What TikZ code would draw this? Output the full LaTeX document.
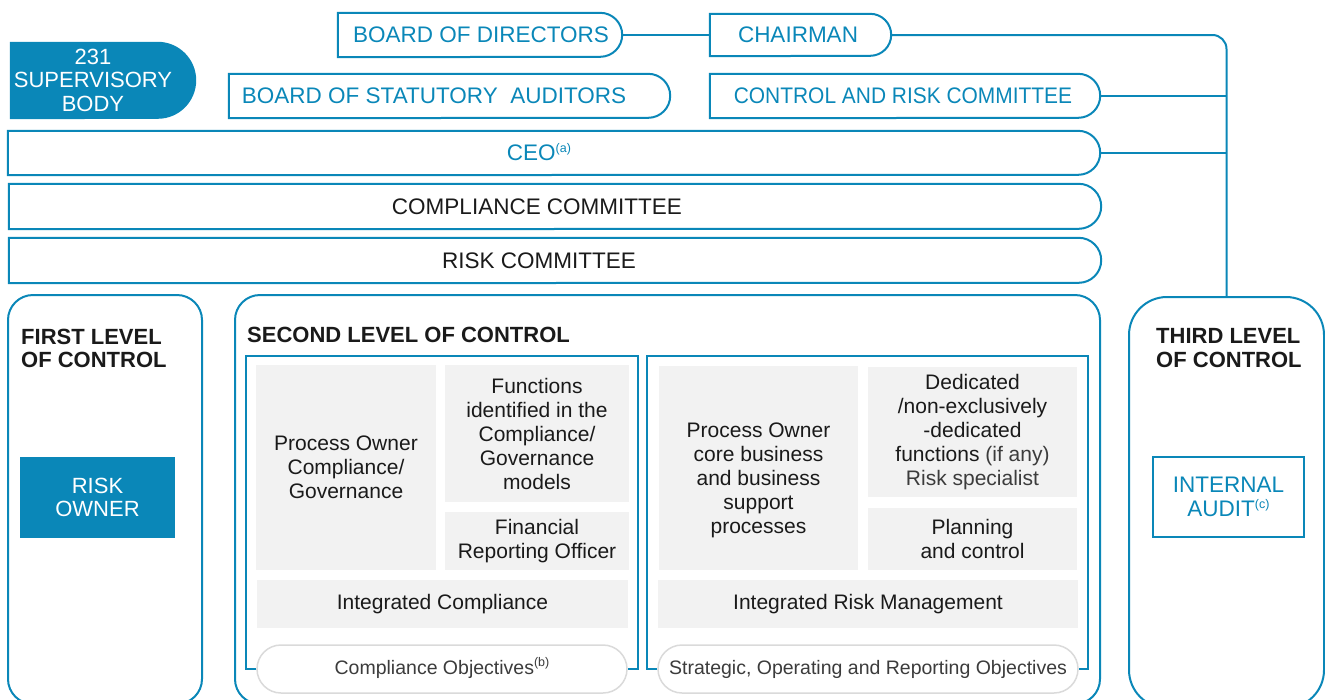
\documentclass[tikz,border=0pt]{standalone}
\usepackage{fontspec}
\setmainfont{Liberation Sans}
\usetikzlibrary{fit,calc}
\definecolor{bl}{HTML}{0A87B8}
\definecolor{gf}{HTML}{F2F2F2}
\definecolor{pb}{HTML}{DADADA}
\definecolor{tx}{HTML}{1A1A1A}
\definecolor{lt}{HTML}{3C3C3C}
\newcommand\sups[1]{\smash{\raisebox{0.38em}{\fontsize{12.5}{12.5}\selectfont #1}}}
% name x1 y1 x2 y2 r  (pixel coordinates, y downwards)
\newcommand\rrbox[7][ln]{%
  \node[area, fit={(#3,-#4) (#5,-#6)}] (#2) {};
  \draw[#1] (#2.north west) -- ([xshift=-#7pt]#2.north east)
    arc[start angle=90, end angle=-90, radius=#7pt] -- (#2.south west) -- cycle;
}
\begin{document}
\begin{tikzpicture}[x=1pt,y=1pt,
  area/.style={inner sep=0, draw=none},
  ln/.style={draw=bl, line width=2pt},
  lab/.style={font=\fontsize{22.5}{24}\selectfont, text=bl, inner sep=0, align=center},
  wlab/.style={font=\fontsize{22}{23.5}\selectfont, text=white, inner sep=0, align=center},
  ttl/.style={font=\fontsize{22}{23.5}\selectfont\bfseries, text=tx, inner sep=0, align=left, anchor=west},
  gbox/.style={fill=gf, inner sep=0, align=center, text=tx, font=\fontsize{21}{24}\selectfont},
  gtxt/.style={inner sep=0, align=center, text=tx, font=\fontsize{21}{24}\selectfont},
  lvl/.style={draw=bl, line width=2pt, inner sep=0},
  pill/.style={draw=pb, line width=1.5pt, fill=white, rounded corners=24pt, inner sep=0,
    minimum height=48pt, font=\fontsize{19.5}{22}\selectfont, text=lt}
]
\useasboundingbox (0,0) rectangle (1325,-699);
\clip (0,0) rectangle (1325,-699);

% ---- top boxes
\rrbox[fill=bl, draw=none]{sup}{10}{42}{196}{119}{38.5}
\node[wlab] (supt) at (93,-80) {231\\SUPERVISORY\\BODY};

\rrbox{bod}{338}{13}{622}{57}{22}
\node[lab] (bodt) at (481,-35) {BOARD OF DIRECTORS};
\rrbox{chair}{710}{14}{891}{56}{21}
\node[lab] (chairt) at (798,-35) {CHAIRMAN};
\rrbox{bsa}{229}{74}{670}{118}{22}
\node[lab] (bsat) at (434,-96) {BOARD OF STATUTORY\ \ AUDITORS};
\rrbox{crc}{710}{74}{1100}{118}{22}
\node[lab] (crct) at (903,-96) {\scalebox{0.93}[1]{CONTROL AND RISK COMMITTEE}};
\rrbox{ceo}{8}{131}{1100}{175}{22}
\node[lab] (ceot) at (539,-153) {CEO\sups{(a)}};
\rrbox{cc}{9}{184}{1101}{229}{22.5}
\node[lab, text=tx] (cct) at (537,-206.5) {COMPLIANCE COMMITTEE};
\rrbox{rc}{9}{238}{1101}{283}{22.5}
\node[lab, text=tx] (rct) at (539,-260.5) {RISK COMMITTEE};

% ---- level boxes
\node[lvl, rounded corners=25pt, fit={(8,-295) (202,-704)}] (l1) {};
\node[lvl, rounded corners=25pt, fit={(235,-295) (1100,-704)}] (l2) {};
\node[lvl, rounded corners=38pt, fit={(1129,-297) (1324,-708)}] (l3) {};

% ---- connectors
\draw[ln] (bod.east) -- (chair.west);
\draw[ln, rounded corners=14pt] (chair.east) -| (l3.north);
\draw[ln] (crc.east) -- (crc.east -| l3.north);
\draw[ln] (ceo.east) -- (ceo.east -| l3.north);

% ---- titles
\node[ttl] (t1) at (21,-348.5) {FIRST LEVEL\\OF CONTROL};
\node[ttl] (t2) at (247,-335) {SECOND LEVEL OF CONTROL};
\node[ttl] (t3) at (1156,-348) {THIRD LEVEL\\OF CONTROL};

% ---- first and third level contents
\node[wlab, fill=bl, minimum width=155pt, minimum height=81pt] (ro) at (97.5,-497.5) {RISK\\OWNER};
\node[lab, draw=bl, line width=2pt, fill=white, minimum width=151pt, minimum height=80pt] (ia) at (1228.5,-497) {INTERNAL\\AUDIT\sups{(c)}};

% ---- second level: compliance side
\node[gbox, minimum width=180pt, minimum height=205pt] (g1) at (346,-467.5) {Process Owner\\Compliance/\\Governance};
\node[gbox, minimum width=184pt, minimum height=137pt] (g2) at (537,-433.5) {Functions\\identified in the\\Compliance/\\Governance\\models};
\node[gbox, minimum width=184pt, minimum height=58pt] (g3) at (537,-541) {Financial\\Reporting Officer};
\node[gbox, minimum width=371pt, minimum height=48pt] (g4) at (442.5,-604) {Integrated Compliance};
\node[pill, minimum width=370pt] (cobj) at (442,-669) {Compliance Objectives\sups{(b)}};
\draw[ln] (cobj.west) -- (246,-669) -- (246,-356) -- (638,-356) -- (638,-669) -- (cobj.east);

% ---- second level: risk side
\node[gbox, minimum width=199pt, minimum height=204pt] (g5) at (758.5,-468) {};
\node[gtxt] (g5t) at (758.5,-480) {Process Owner\\core business\\and business\\support\\processes};
\node[gbox, minimum width=209pt, minimum height=130pt] (g6) at (972.5,-432) {Dedicated\\/non-exclusively\\-dedicated\\functions {\color{lt}(if any)}\\{\color{lt}Risk specialist}};
\node[gbox, minimum width=209pt, minimum height=62pt] (g7) at (972.5,-539) {Planning\\and control};
\node[gbox, minimum width=420pt, minimum height=48pt] (g8) at (868,-604) {Integrated Risk Management};
\node[pill, minimum width=420pt] (sobj) at (868,-669) {Strategic, Operating and Reporting Objectives};
\draw[ln] (sobj.west) -- (647,-669) -- (647,-356) -- (1088,-356) -- (1088,-669) -- (sobj.east);
\end{tikzpicture}
\end{document}
